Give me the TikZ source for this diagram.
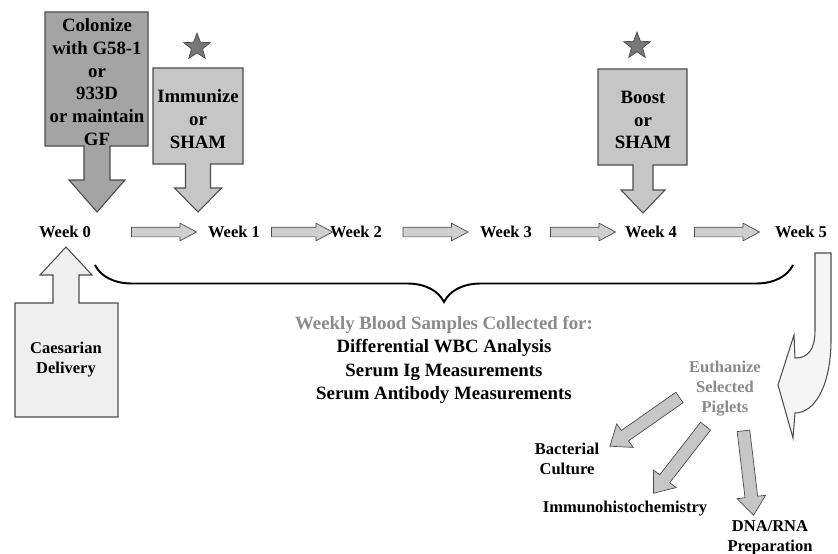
\documentclass[tikz,border=0pt]{standalone}
\usepackage{fontspec}
\setmainfont{Liberation Serif}
\usetikzlibrary{shapes.arrows,shapes.geometric,decorations.pathreplacing}
\definecolor{darkbox}{HTML}{A4A4A4}
\definecolor{midbox}{HTML}{C6C6C6}
\definecolor{lightbox}{HTML}{EFEFEF}
\definecolor{paletext}{HTML}{8A8A8A}
\definecolor{starfill}{HTML}{777777}

\begin{document}
\begin{tikzpicture}[x=0.02cm, y=-0.02cm,
  week/.style = {font=\fontsize{9.4}{11.4}\selectfont\bfseries},
  boxtxt/.style = {align=center,font=\fontsize{10.7}{13}\selectfont\bfseries},
  small/.style = {align=center,font=\fontsize{9.4}{11.4}\selectfont\bfseries},
  block/.style = {draw=black!70,line width=0.6pt},
  wkarrow/.style = {single arrow,draw=black!70,fill=midbox!85,
        inner xsep=0pt,inner ysep=0.09cm,single arrow head extend=0.08cm,
        single arrow tip angle=56,minimum height=1.3cm},
  euarrow/.style = {single arrow,draw=black!70,fill=midbox,
        inner xsep=0pt,inner ysep=0.12cm,single arrow head extend=0.16cm,
        single arrow tip angle=76,minimum height=1.7cm,sloped,allow upside down},
  mark star/.style = {star,star points=5,star point ratio=2.4,draw=black!70,
        fill=starfill,minimum size=0.56cm,inner sep=0pt}]
 \useasboundingbox (0,0) rectangle (838,554);
 % boxes with their block arrows
 \draw[block,fill=darkbox] (45,12) -- (148,12) -- (148,146) -- (110,146) -- (110,180)
   -- (125,180) -- (97,212) -- (69,180) -- (84,180) -- (84,146) -- (45,146) -- cycle;
 \draw[block,fill=midbox] (153,68) -- (243,68) -- (243,164) -- (210.5,164) -- (210.5,188)
   -- (221.5,188) -- (198,212) -- (174.5,188) -- (185.5,188) -- (185.5,164) -- (153,164) -- cycle;
 \draw[block,fill=midbox] (598,69) -- (687,69) -- (687,165) -- (653,165) -- (653,190)
   -- (665,190) -- (643,213) -- (621,190) -- (633,190) -- (633,165) -- (598,165) -- cycle;
 \draw[block,fill=lightbox] (15,417) -- (15,303) -- (53,303) -- (53,275) -- (40,275)
   -- (66,247) -- (92,275) -- (79,275) -- (79,303) -- (118,303) -- (118,417) -- cycle;
 \draw[block,fill=white!96!black] (815,253) -- (831,253) -- (831,340)
   .. controls (831,385) and (815,413) .. (795,413) -- (793,438) -- (778,385)
   -- (794,335) -- (795,358) .. controls (808,358) and (815,350) .. (815,330) -- cycle;

 \node[boxtxt] (colon) at (97,82) {Colonize\\with G58-1\\or\\933D\\or maintain\\GF};
 \node[boxtxt] (immun) at (198,119) {Immunize\\or\\SHAM};
 \node[boxtxt] (boost) at (643,120) {Boost\\or\\SHAM};
 \node[small] (caes) at (66,360) {Caesarian\\Delivery};
 \node[mark star] (s1) at (197,47) {};
 \node[mark star] (s2) at (637,46) {};

 \node[week] (w0) at (65,232) {Week 0};
 \node[week] (w1) at (234,232) {Week 1};
 \node[week] (w2) at (356,232) {Week 2};
 \node[week] (w3) at (506,232) {Week 3};
 \node[week] (w4) at (651,232) {Week 4};
 \node[week] (w5) at (801,232) {Week 5};
 \path (w0) -- node[wkarrow,xshift=0.2cm] {} (w1);
 \path (w1) -- node[wkarrow,minimum height=1.22cm,xshift=0.05cm] {} (w2);
 \path (w2) -- node[wkarrow] {} (w3);
 \path (w3) -- node[wkarrow] {} (w4);
 \path (w4) -- node[wkarrow,xshift=-0.07cm] {} (w5);

 \coordinate (bl) at (95,265);
 \coordinate (br) at (793,265);
 \draw[line width=1.1pt,decorate,decoration={brace,mirror,amplitude=0.74cm}] (bl) -- (br);
 \node[boxtxt,font=\fontsize{10.7}{13.2}\selectfont\bfseries] (blood) at (444,360)
   {\textcolor{paletext}{Weekly Blood Samples Collected for:}\\
    Differential WBC Analysis\\Serum Ig Measurements\\Serum Antibody Measurements};

 \node[small,text=paletext] (eu) at (725,389) {Euthanize\\Selected\\Piglets};
 \node[small] (bact) at (567,459) {Bacterial\\Culture};
 \node[small] (ihc) at (625,509) {Immunohistochemistry};
 \node[small] (dna) at (770,538) {DNA/RNA\\Preparation};
 \coordinate (t1) at (683,395); \coordinate (h1) at (613,444);
 \coordinate (t2) at (708,423); \coordinate (h2) at (656,490);
 \coordinate (t3) at (743,427); \coordinate (h3) at (753,511);
 \path (t1) -- node[euarrow] {} (h1);
 \path (t2) -- node[euarrow] {} (h2);
 \path (t3) -- node[euarrow] {} (h3);
\end{tikzpicture}
\end{document}
